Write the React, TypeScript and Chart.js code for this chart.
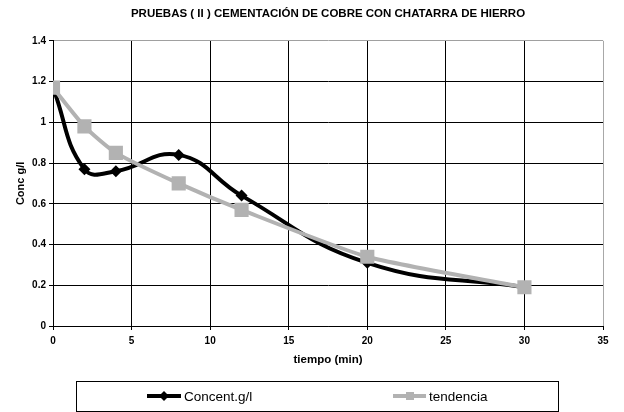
import React, { useEffect, useRef } from "react";
import { Chart, registerables } from "chart.js";

Chart.register(...registerables);

const chartTitle = "PRUEBAS ( II ) CEMENTACIÓN DE COBRE CON CHATARRA DE HIERRO";
const xTitle = "tiempo (min)";
const yTitle = "Conc g/l";
const seriesNames = ["Concent.g/l", "tendencia"];
const timeMin = [0, 2, 4, 8, 12, 20, 30];
const concent = [1.17, 0.77, 0.76, 0.84, 0.64, 0.31, 0.19];
const tendencia = [1.17, 0.98, 0.85, 0.7, 0.57, 0.34, 0.19];

const FONT = "Arial, 'Liberation Sans', sans-serif";
const BLACK = "#000000";
const GRAY = "#b2b2b2";

const legendPlugin = {
  id: "boxLegend",
  afterDraw(chart: any) {
    const ctx = chart.ctx;
    ctx.save();
    ctx.strokeStyle = "#000";
    ctx.lineWidth = 1;
    ctx.strokeRect(76.5, 381.5, 482, 30);
    const y = 396;
    // item 1
    ctx.strokeStyle = BLACK;
    ctx.lineWidth = 4;
    ctx.beginPath();
    ctx.moveTo(147, y);
    ctx.lineTo(181, y);
    ctx.stroke();
    ctx.fillStyle = BLACK;
    ctx.beginPath();
    ctx.moveTo(164, y - 5);
    ctx.lineTo(169, y);
    ctx.lineTo(164, y + 5);
    ctx.lineTo(159, y);
    ctx.closePath();
    ctx.fill();
    ctx.font = `13.5px ${FONT}`;
    ctx.textBaseline = "middle";
    ctx.textAlign = "left";
    ctx.fillText(seriesNames[0], 184, y + 1);
    // item 2
    ctx.strokeStyle = GRAY;
    ctx.lineWidth = 4;
    ctx.beginPath();
    ctx.moveTo(393, y);
    ctx.lineTo(426, y);
    ctx.stroke();
    ctx.fillStyle = GRAY;
    ctx.fillRect(406, y - 4, 8, 8);
    ctx.fillStyle = BLACK;
    ctx.fillText(seriesNames[1], 429, y + 1);
    ctx.restore();
  },
};

export default function App() {
  const ref = useRef<HTMLCanvasElement>(null);
  useEffect(() => {
    const canvas = ref.current;
    if (!canvas) return;
    const chart = new Chart(canvas, {
      type: "line",
      data: {
        datasets: [
          {
            label: seriesNames[0],
            data: timeMin.map((t, i) => ({ x: t, y: concent[i] })),
            borderColor: BLACK,
            backgroundColor: BLACK,
            borderWidth: 4,
            pointStyle: "rectRot",
            pointRadius: 6,
            pointBorderWidth: 0,
            tension: 0.45,
            order: 2,
          },
          {
            label: seriesNames[1],
            data: timeMin.map((t, i) => ({ x: t, y: tendencia[i] })),
            borderColor: GRAY,
            backgroundColor: GRAY,
            borderWidth: 4,
            pointStyle: "rect",
            pointRadius: 10,
            pointBorderWidth: 0,
            tension: 0.2,
            order: 1,
          },
        ],
      },
      options: {
        animation: false,
        responsive: false,
        maintainAspectRatio: false,
        layout: { padding: { top: 7, right: 21, bottom: 44, left: 0 } },
        plugins: {
          legend: { display: false },
          tooltip: { enabled: false },
          title: {
            display: true,
            text: chartTitle,
            fullSize: false,
            color: BLACK,
            font: { family: FONT, size: 11.5, weight: "bold" },
            padding: { top: 0, bottom: 20 },
          },
        },
        scales: {
          x: {
            type: "linear",
            min: 0,
            max: 35,
            ticks: {
              stepSize: 5,
              color: BLACK,
              font: { family: FONT, size: 10, weight: "bold" },
              padding: 5,
              maxRotation: 0,
            },
            grid: {
              color: (c: any) => (c.tick && c.tick.value === 35 ? "#a8a8a8" : "#000"),
              lineWidth: 1,
              tickLength: 4,
              tickColor: "#000",
            },
            border: { color: "#000", width: 1 },
            title: {
              display: true,
              text: xTitle,
              color: BLACK,
              font: { family: FONT, size: 11.5, weight: "bold" },
              padding: { top: 0, bottom: 1 },
            },
            afterFit: (s: any) => {
              s.height = 42;
            },
          },
          y: {
            type: "linear",
            min: 0,
            max: 1.4,
            ticks: {
              stepSize: 0.2,
              color: BLACK,
              font: { family: FONT, size: 10, weight: "bold" },
              padding: 3,
              callback: (v: any) => String(Number(Number(v).toFixed(1))),
            },
            grid: {
              color: (c: any) => (c.tick && Math.abs(c.tick.value - 1.4) < 1e-6 ? "#a0a0a0" : "#000"),
              lineWidth: 1,
              tickLength: 4,
              tickColor: "#000",
            },
            border: { color: "#000", width: 1 },
            title: {
              display: true,
              text: yTitle,
              color: BLACK,
              font: { family: FONT, size: 11, weight: "bold" },
              padding: { top: 14, bottom: 0 },
            },
            afterFit: (s: any) => {
              s.width = 53;
            },
          },
        },
      },
      plugins: [legendPlugin],
    });
    return () => chart.destroy();
  }, []);
  return (
    <div style={{ position: "absolute", left: 0, top: 0, width: 624, height: 412, background: "#fff" }}>
      <canvas ref={ref} width={624} height={412} style={{ width: 624, height: 412 }} />
    </div>
  );
}
